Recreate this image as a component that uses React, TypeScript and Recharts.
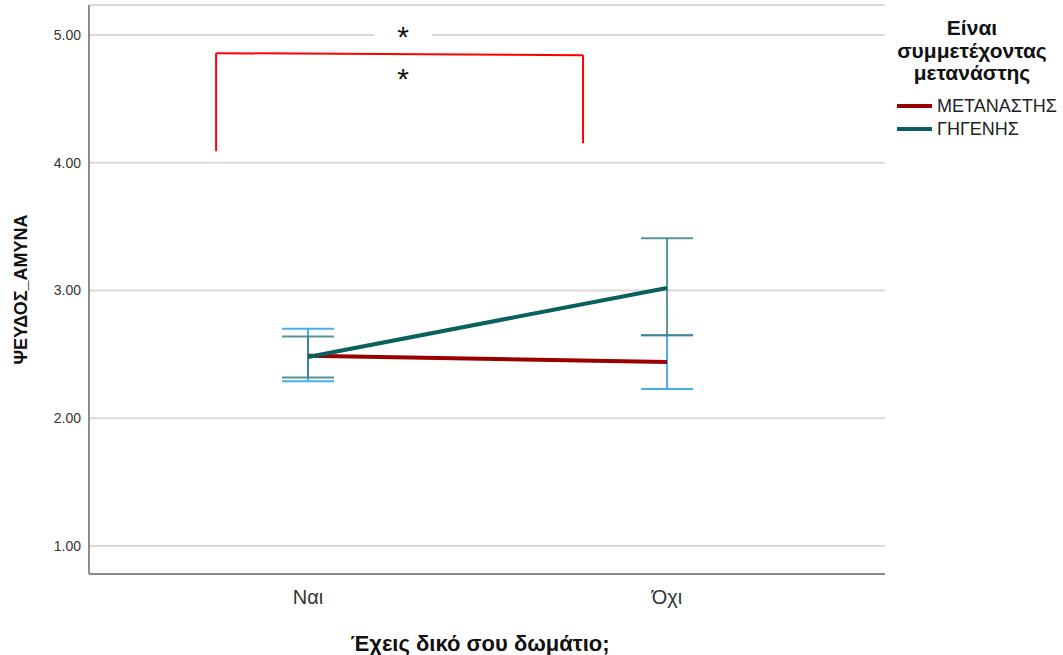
import React from 'react';
import {
  LineChart, Line, XAxis, YAxis, CartesianGrid, ErrorBar, ReferenceLine, ReferenceDot, Legend,
} from 'recharts';

// ---- data ----
const categories = ['Ναι', 'Όχι'];
const seriesNames = ['ΜΕΤΑΝΑΣΤΗΣ', 'ΓΗΓΕΝΗΣ'];
const migrantMeans = [2.49, 2.44];
const migrantLow = [2.29, 2.23];
const migrantHigh = [2.70, 2.65];
const nativeMeans = [2.48, 3.02];
const nativeLow = [2.32, 2.65];
const nativeHigh = [2.64, 3.41];
const yTicks = [1, 2, 3, 4, 5];

// significance annotation (data coordinates)
const bracketX = [-0.256, 0.766];
const bracketLeftY = [4.09, 4.858];
const bracketRightY = [4.153, 4.842];
const starX = 0.265;
const starY = [5.04, 4.71];

const data = categories.map((c, i) => ({
  x: i,
  migrant: migrantMeans[i],
  migrantErr: [migrantMeans[i] - migrantLow[i], migrantHigh[i] - migrantMeans[i]],
  native: nativeMeans[i],
  nativeErr: [nativeMeans[i] - nativeLow[i], nativeHigh[i] - nativeMeans[i]],
}));

const FONT = 'Arial, "Liberation Sans", sans-serif';
const RED_LINE = '#990000';
const TEAL_LINE = '#0a5f5f';
const BLUE_ERR = '#45aef0';
const TEAL_ERR = '#3a8080';

const StarShape = (masked: boolean) => (props: any) => {
  const { cx, cy } = props;
  const fs = 30;
  return (
    <g>
      {masked && <rect x={cx - 29} y={cy - 11} width={58} height={20} fill="#ffffff" />}
      <text x={cx} y={cy + fs * 0.57} textAnchor="middle" fontSize={fs} fontFamily={FONT} fill="#111">*</text>
    </g>
  );
};

const LegendContent = () => (
  <div style={{ fontFamily: FONT, color: '#111' }}>
    <div style={{ fontWeight: 'bold', fontSize: 21, lineHeight: '22.5px', textAlign: 'center', width: 174 }}>
      Είναι<br />συμμετέχοντας<br />μετανάστης
    </div>
    {seriesNames.map((n, i) => (
      <div key={n} style={{ display: 'flex', alignItems: 'center', height: 23, marginTop: i === 0 ? 10 : 0 }}>
        <div style={{ width: 35, height: 4, background: i === 0 ? RED_LINE : TEAL_LINE, marginLeft: 12, marginRight: 5 }} />
        <span style={{ fontSize: 18, color: '#222' }}>{n}</span>
      </div>
    ))}
  </div>
);

const YLabel = (props: any) => {
  const vb = props.viewBox;
  const cx = vb.x + 21;
  const cy = vb.y + vb.height / 2;
  return (
    <text x={cx} y={cy} transform={`rotate(-90 ${cx} ${cy})`} textAnchor="middle" dominantBaseline="central"
      fontSize={18} fontWeight="bold" fontFamily={FONT} fill="#111">ΨΕΥΔΟΣ_ΑΜΥΝΑ</text>
  );
};

const XLabel = (props: any) => {
  const vb = props.viewBox;
  const cx = vb.x + vb.width / 2 - 7;
  return (
    <text x={cx} y={vb.y + 69} textAnchor="middle" dominantBaseline="central"
      fontSize={22} fontWeight="bold" fontFamily={FONT} fill="#111">Έχεις δικό σου δωμάτιο;</text>
  );
};

export default function App() {
  return (
    <div style={{ position: 'absolute', left: 0, top: 0, width: 1063, height: 655, background: '#fff' }}>
      <LineChart width={1063} height={655} data={data} margin={{ top: 5, right: 178, bottom: 0, left: 0 }}>
        <CartesianGrid horizontal vertical={false} stroke="#d9d9d9" strokeWidth={2} />
        <XAxis
          dataKey="x" type="number" domain={[-0.61, 1.607]} ticks={[0, 1]} allowDataOverflow
          tickFormatter={(v: number) => categories[v]}
          height={81} tickLine={false} stroke="#8c8c8c" strokeWidth={2} tickMargin={10}
          tick={{ fontSize: 20, fill: '#333', fontFamily: FONT }}
          label={<XLabel />}
        />
        <YAxis
          type="number" domain={[0.781, 5.235]} ticks={yTicks} allowDataOverflow
          tickFormatter={(v: number) => v.toFixed(2)}
          width={89} tickLine={false} stroke="#8c8c8c" strokeWidth={2}
          tick={{ fontSize: 14, fill: '#333', fontFamily: FONT }}
          label={<YLabel />}
        />
        <Legend
          layout="horizontal" verticalAlign="middle" align="center"
          wrapperStyle={{ left: 885, top: 17, right: 'auto', bottom: 'auto', width: 178 }}
          content={<LegendContent />}
        />
        <Line dataKey="migrant" name={seriesNames[0]} stroke={RED_LINE} strokeWidth={4} dot={false} isAnimationActive={false}>
          <ErrorBar dataKey="migrantErr" width={26} stroke={BLUE_ERR} strokeWidth={2} direction="y" />
        </Line>
        <Line dataKey="native" name={seriesNames[1]} stroke={TEAL_LINE} strokeWidth={4} dot={false} isAnimationActive={false}>
          <ErrorBar dataKey="nativeErr" width={26} stroke={TEAL_ERR} strokeOpacity={0.85} strokeWidth={2} direction="y" />
        </Line>
        <ReferenceLine segment={[{ x: bracketX[0], y: bracketLeftY[0] }, { x: bracketX[0], y: bracketLeftY[1] }]} stroke="#ff0000" strokeWidth={2} ifOverflow="visible" />
        <ReferenceLine segment={[{ x: bracketX[0], y: bracketLeftY[1] }, { x: bracketX[1], y: bracketRightY[1] }]} stroke="#ff0000" strokeWidth={2} ifOverflow="visible" />
        <ReferenceLine segment={[{ x: bracketX[1], y: bracketRightY[1] }, { x: bracketX[1], y: bracketRightY[0] }]} stroke="#ff0000" strokeWidth={2} ifOverflow="visible" />
        <ReferenceDot x={starX} y={starY[0]} r={1} shape={StarShape(true)} ifOverflow="visible" />
        <ReferenceDot x={starX} y={starY[1]} r={1} shape={StarShape(false)} ifOverflow="visible" />
      </LineChart>
    </div>
  );
}
